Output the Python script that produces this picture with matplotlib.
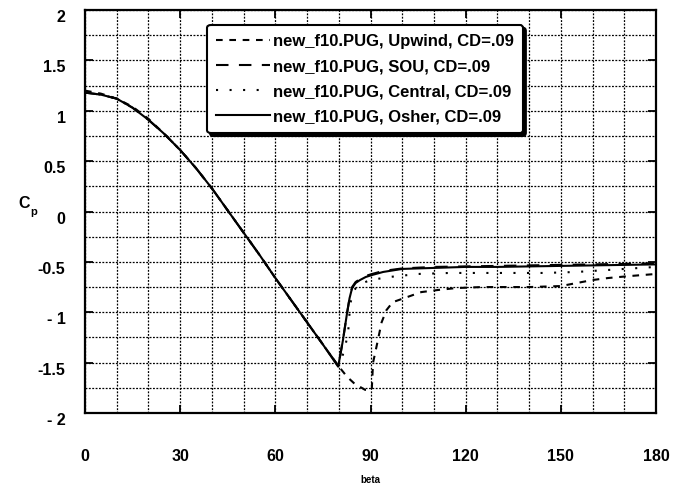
import matplotlib
matplotlib.use("Agg")
import matplotlib.pyplot as plt
from matplotlib.ticker import FixedLocator, MultipleLocator

plt.rcParams['font.family'] = ['Liberation Sans', 'DejaVu Sans']
plt.rcParams['font.weight'] = 'bold'

# ---- data ----
beta_upwind = [0, 5, 10, 15, 20, 25, 30, 35, 40, 45, 50, 55, 60, 65, 70, 75, 79.8,
               82.6, 85, 88.3, 90.4, 90.8, 91.5, 92.5, 93.5, 95, 97, 101.5, 106, 111,
               117, 125, 140, 150, 155, 160, 165, 172, 180]
cp_upwind = [1.20, 1.17, 1.12, 1.04, 0.92, 0.77, 0.61, 0.43, 0.23, 0.01, -0.21, -0.43,
             -0.66, -0.88, -1.10, -1.32, -1.53, -1.64, -1.71, -1.77, -1.77, -1.50, -1.40,
             -1.25, -1.10, -0.98, -0.90, -0.85, -0.80, -0.78, -0.76, -0.75, -0.75, -0.74,
             -0.71, -0.68, -0.66, -0.64, -0.62]

beta_sou = [0, 5, 10, 15, 20, 25, 30, 35, 40, 45, 50, 55, 60, 65, 70, 75, 79.8, 80.5,
            81.3, 82.6, 83.4, 84.2, 85.3, 86.7, 88.5, 90.5, 94, 100, 110, 120, 130, 140,
            150, 160, 170, 180]
cp_sou = [1.18, 1.16, 1.12, 1.03, 0.91, 0.77, 0.61, 0.43, 0.23, 0.01, -0.21, -0.43,
          -0.66, -0.88, -1.10, -1.32, -1.53, -1.42, -1.28, -1.01, -0.86, -0.75, -0.70,
          -0.67, -0.64, -0.62, -0.59, -0.565, -0.55, -0.545, -0.54, -0.535, -0.53,
          -0.525, -0.52, -0.515]

beta_central = [0, 5, 10, 15, 20, 25, 30, 35, 40, 45, 50, 55, 60, 65, 70, 75, 79.8, 81,
                82, 83, 83.6, 84.5, 86, 90, 96, 105, 115, 130, 145, 155, 165, 175, 180]
cp_central = [1.18, 1.16, 1.12, 1.03, 0.91, 0.77, 0.61, 0.43, 0.23, 0.01, -0.21, -0.43,
              -0.66, -0.88, -1.10, -1.32, -1.53, -1.45, -1.35, -1.18, -0.92, -0.80,
              -0.73, -0.68, -0.65, -0.62, -0.61, -0.61, -0.61, -0.60, -0.58, -0.56, -0.55]

beta_osher = [0, 5, 10, 15, 20, 25, 30, 35, 40, 45, 50, 55, 60, 65, 70, 75, 79.8, 80.5,
              81.3, 82.6, 83.4, 84.2, 85.3, 86.7, 88.5, 90.5, 94, 100, 110, 120, 130, 140,
              150, 160, 170, 180]
cp_osher = [1.18, 1.16, 1.12, 1.03, 0.91, 0.77, 0.61, 0.43, 0.23, 0.01, -0.21, -0.43,
            -0.66, -0.88, -1.10, -1.32, -1.54, -1.42, -1.28, -1.01, -0.86, -0.76, -0.71,
            -0.68, -0.65, -0.63, -0.60, -0.57, -0.56, -0.55, -0.55, -0.545, -0.54,
            -0.535, -0.53, -0.525]

labels = ["new_f10.PUG, Upwind, CD=.09", "new_f10.PUG, SOU, CD=.09",
          "new_f10.PUG, Central, CD=.09", "new_f10.PUG, Osher, CD=.09"]
xticks = [0, 30, 60, 90, 120, 150, 180]
yticks = [-2, -1.5, -1, -0.5, 0, 0.5, 1, 1.5, 2]
ytick_labels = ["- 2", "-1.5", "- 1", "-0.5", "0", "0.5", "1", "1.5", "2"]

# ---- figure ----
fig = plt.figure(figsize=(6.75, 4.92), dpi=100)
ax = fig.add_axes([85/675, 1-413/492, 571/675, 403/492])

lw = 1.5
ax.plot(beta_upwind, cp_upwind, color='black', lw=lw, ls=(0, (3.2, 3.2)), label=labels[0])
ax.plot(beta_sou, cp_sou, color='black', lw=lw, ls=(0, (6, 5)), label=labels[1])
ax.plot(beta_central, cp_central, color='black', lw=lw, ls=(0, (1, 5.5)), label=labels[2])
ax.plot(beta_osher, cp_osher, color='black', lw=lw, ls='-', label=labels[3])

ax.set_xlim(0, 180)
ax.set_ylim(-2, 2)
ax.xaxis.set_major_locator(FixedLocator(xticks))
ax.xaxis.set_minor_locator(MultipleLocator(10))
ax.yaxis.set_major_locator(FixedLocator(yticks))
ax.yaxis.set_minor_locator(MultipleLocator(0.25))
ax.set_yticklabels(ytick_labels)

ax.grid(which='both', color='black', lw=0.9, ls=(0, (1.5, 1.2)))
ax.set_axisbelow(True)

ax.tick_params(axis='both', which='major', direction='in', length=6, width=1.3,
               top=True, right=True, labelsize=11.5)
ax.tick_params(axis='both', which='minor', direction='in', length=0)
ax.tick_params(axis='y', which='major', pad=14)
ax.tick_params(axis='x', which='major', pad=26)
for lab in ax.get_yticklabels():
    lab.set_fontweight('bold')
    lab.set_va('top')
for lab in ax.get_xticklabels():
    lab.set_fontweight('bold')

for s in ax.spines.values():
    s.set_linewidth(1.6)

ax.set_xlabel('beta', fontsize=7, fontweight='bold', labelpad=8)

fig.text(18/675, 1-203/492, 'C', fontsize=11.5, fontweight='bold', ha='left', va='center')
fig.text(30/675, 1-212/492, 'p', fontsize=8, fontweight='bold', ha='left', va='center')

leg = ax.legend(loc='upper left', bbox_to_anchor=(0.214, 0.963), borderaxespad=0,
                fontsize=12, handlelength=3.2, handletextpad=0.2, labelspacing=0.6,
                borderpad=0.55, fancybox=True, framealpha=1, edgecolor='black',
                shadow={'color': 'black', 'alpha': 1})
leg.get_frame().set_linewidth(1.5)
for t in leg.get_texts():
    t.set_fontweight('bold')

fig.savefig('out.png', dpi=100)
